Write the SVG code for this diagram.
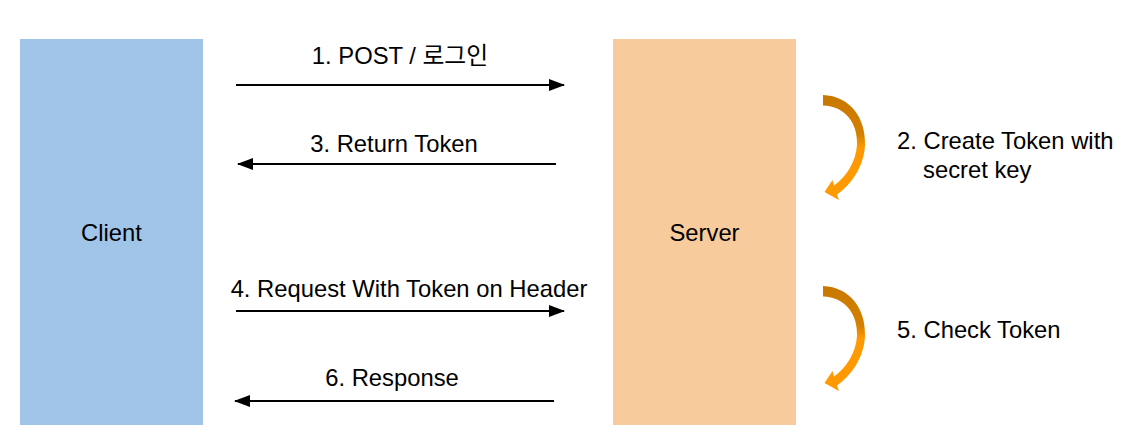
<svg xmlns="http://www.w3.org/2000/svg" xmlns:xlink="http://www.w3.org/1999/xlink" width="1132" height="446" viewBox="0 0 1132 446">
<style>
  text { font-family: "Liberation Sans", "Noto Sans CJK KR", Arial, sans-serif; font-size: 23.8px; fill: #000; }
  .mid { text-anchor: middle; }
  .conn { stroke: #000; stroke-width: 2; fill: none; }
</style>
<defs>
  <marker id="ah" markerWidth="16" markerHeight="12" refX="15" refY="6" orient="auto" markerUnits="userSpaceOnUse">
    <path d="M0,0 L16,6 L0,12 Z" fill="#000"/>
  </marker>
  <linearGradient id="og" x1="0" y1="0" x2="0" y2="1">
    <stop offset="0" stop-color="#C97800"/>
    <stop offset="0.38" stop-color="#D48000"/>
    <stop offset="0.5" stop-color="#FF9900"/>
    <stop offset="1" stop-color="#FF9900"/>
  </linearGradient>
  <path id="curl" d="M 823 95 C 850 96, 866 118, 865 145 C 864 166, 852 184, 837 194.5 L 839 200 L 824.5 192 L 832.5 180 L 834 185.5 C 846 177, 856 162, 857 145 C 858 123, 845 106, 823 105.5 Z" fill="url(#og)"/>
</defs>
<rect width="1132" height="446" fill="#fff"/>
<g id="client">
  <rect x="20" y="39" width="183" height="386" fill="#A0C5E8"/>
  <text class="mid" x="111.5" y="241">Client</text>
</g>
<g id="server">
  <rect x="613" y="39" width="183" height="386" fill="#F8CB9C"/>
  <text class="mid" x="704.5" y="241">Server</text>
</g>
<g id="connectors">
  <line class="conn" x1="236" y1="85" x2="564" y2="85" marker-end="url(#ah)"/>
  <line class="conn" x1="556" y1="164" x2="238" y2="164" marker-end="url(#ah)"/>
  <line class="conn" x1="236" y1="311" x2="564" y2="311" marker-end="url(#ah)"/>
  <line class="conn" x1="554" y1="401" x2="235" y2="401" marker-end="url(#ah)"/>
  <use xlink:href="#curl"/>
  <use xlink:href="#curl" transform="translate(0,191)"/>
</g>
<g id="labels">
  <text class="mid" x="400" y="64">1. POST / 로그인</text>
  <text class="mid" x="394" y="152">3. Return Token</text>
  <text class="mid" x="409" y="297">4. Request With Token on Header</text>
  <text class="mid" x="392" y="386">6. Response</text>
  <text x="897" y="149">2. Create Token with</text>
  <text x="923" y="178">secret key</text>
  <text x="897" y="338">5. Check Token</text>
</g>
</svg>
